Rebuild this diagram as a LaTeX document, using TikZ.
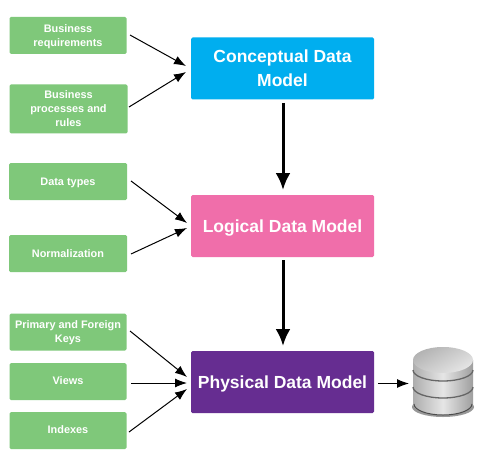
\documentclass[tikz,border=0pt]{standalone}
\usepackage{fontspec}
\setmainfont{Liberation Sans}
\usetikzlibrary{arrows.meta}
\definecolor{grn}{HTML}{7FC87A}
\definecolor{cblue}{HTML}{00AEEF}
\definecolor{cpink}{HTML}{F06EAA}
\definecolor{cpurple}{HTML}{662D91}
\tikzset{
  x=1pt,y=-1pt,
  src/.style={fill=grn,rounded corners=1.5pt,text=white,font=\fontsize{10.9}{14}\selectfont\bfseries,align=center,inner sep=0pt,anchor=center},
  model/.style={rounded corners=1.5pt,text=white,font=\fontsize{17.5}{24}\selectfont\bfseries,align=center,inner sep=0pt,minimum width=183pt,minimum height=62pt},
  thin arrow/.style={draw=black,line width=1pt,-{Latex[length=12pt,width=9pt]}},
  thick arrow/.style={draw=black,line width=3pt,-{Latex[length=17pt,width=15pt]}},
}
\begin{document}
\begin{tikzpicture}
\useasboundingbox (0,0) rectangle (494,457);
\fill[white] (0,0) rectangle (494,457);
% source boxes
\node[src,minimum width=117pt,minimum height=37pt,text depth=0pt] (b1) at (68,35.5) {Business\\requirements};
\node[src,minimum width=118pt,minimum height=49pt,text depth=-2pt] (b2) at (68.5,109) {Business\\processes and\\rules};
\node[src,minimum width=118pt,minimum height=37pt,text depth=0pt] (b3) at (68,181.5) {Data types};
\node[src,minimum width=118pt,minimum height=37pt] (b4) at (68,253.5) {Normalization};
\node[src,minimum width=117pt,minimum height=37pt,text depth=-1pt] (b5) at (68,332) {Primary and Foreign\\Keys};
\node[src,minimum width=117pt,minimum height=37pt,text depth=1pt] (b6) at (68,381.5) {Views};
\node[src,minimum width=117pt,minimum height=37pt,text depth=2pt] (b7) at (68,430.5) {Indexes};
% model boxes
\node[model,fill=cblue] (m1) at (282.5,68.5) {Conceptual Data\\Model};
\node[model,fill=cpink,text depth=0pt] (m2) at (282.5,226) {Logical Data Model};
\node[model,fill=cpurple,text depth=0pt] (m3) at (282.5,382) {Physical Data Model};
% connector ends
\coordinate (s1) at (130,35);
\coordinate (e1) at (186,66);
\coordinate (s2) at (129,107);
\coordinate (e2) at (186,72);
\coordinate (s3) at (131,181);
\coordinate (e3) at (187,223);
\coordinate (s4) at (131,254);
\coordinate (e4) at (187,228);
\coordinate (s5) at (130,331);
\coordinate (e5) at (187,377);
\coordinate (s6) at (131,383);
\coordinate (e6) at (187,383);
\coordinate (s7) at (129,432);
\coordinate (e7) at (187,389);
\foreach \i in {1,...,7}{\draw[thin arrow] (s\i) -- (e\i);}
\coordinate (v1) at (283,103);
\coordinate (w1) at (283,190);
\coordinate (v2) at (283,260);
\coordinate (w2) at (283,346);
\draw[thick arrow] (v1) -- (w1);
\draw[thick arrow] (v2) -- (w2);
\coordinate (db) at (409,383.5);
\coordinate (r) at (378,383.5);
\draw[thin arrow] (r) -- (db);
% database cylinder
\fill[black!80,opacity=.5] (443,407) ellipse [x radius=31,y radius=10];
\shade[left color=black!32,right color=black!38,middle color=black!10]
  (413,360) -- (413,404) arc[start angle=180,end angle=0,x radius=30,y radius=11] -- (473,360) -- cycle;
\draw[black!60,line width=1.3pt] (413,370) arc[start angle=180,end angle=0,x radius=30,y radius=11];
\draw[black!60,line width=1.3pt] (413,387) arc[start angle=180,end angle=0,x radius=30,y radius=11];
\draw[black!70,line width=1pt] (414,404) arc[start angle=180,end angle=0,x radius=29,y radius=11];
\shade[top color=black!30,bottom color=black!10,shading angle=30] (443,360) ellipse [x radius=30,y radius=13];
\end{tikzpicture}
\end{document}
